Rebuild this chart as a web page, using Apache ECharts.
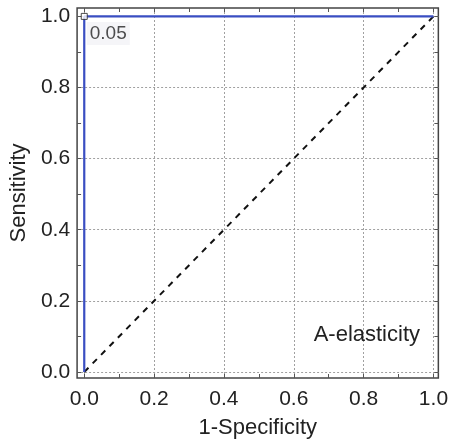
<!DOCTYPE html>
<html><head><meta charset="utf-8">
<script src="https://cdn.jsdelivr.net/npm/echarts@6/dist/echarts.min.js"></script>
<style>html,body{margin:0;padding:0;background:#fff}#c{width:451px;height:446px}</style>
</head><body><div id="c"></div>
<script>
// ROC curve data
const rocX = [0, 0, 1];
const rocY = [0, 1, 1];
const diagX = [0, 1];
const diagY = [0, 1];
const cutoffPoint = [0, 1];
const cutoffLabel = '0.05';
const majorTicks = [0, 0.2, 0.4, 0.6, 0.8, 1.0];
const minorTicks = [0, 0.1, 0.2, 0.3, 0.4, 0.5, 0.6, 0.7, 0.8, 0.9, 1.0];
const xTitle = '1-Specificity';
const yTitle = 'Sensitivity';
const panelLabel = 'A-elasticity';

const FONT = 'Liberation Sans, Arial, sans-serif';
const TXT = '#222';
const chart = echarts.init(document.getElementById('c'), null, {renderer: 'canvas'});

function mainAxis(pos, isX) {
  return {
    type: 'value', position: pos,
    min: isX ? -0.0205 : -0.017, max: isX ? 1.014 : 1.0236,
    name: isX ? xTitle : yTitle,
    nameLocation: 'middle',
    nameGap: isX ? 39 : 46,
    nameTextStyle: {fontFamily: FONT, fontSize: 22, color: TXT},
    axisLine: {show: false, onZero: false},
    axisTick: {show: true, inside: true, length: 4, customValues: minorTicks, lineStyle: {color: '#555', width: 1}},
    axisLabel: {show: true, customValues: majorTicks, formatter: v => v.toFixed(1), fontFamily: FONT, fontSize: 21, color: TXT, margin: isX ? 11 : 7},
    splitLine: {show: false}
  };
}
function mirrorAxis(pos, isX) {
  return {
    type: 'value', position: pos,
    min: isX ? -0.0205 : -0.017, max: isX ? 1.014 : 1.0236,
    axisLine: {show: false, onZero: false},
    axisTick: {show: true, inside: true, length: 4, customValues: minorTicks, lineStyle: {color: '#555', width: 1}},
    axisLabel: {show: false},
    splitLine: {show: false}
  };
}

const gridLineStyle = {color: '#a0a0a0', type: [2, 2], width: 1};

chart.setOption({
  animation: false,
  backgroundColor: '#fff',
  grid: {left: 73, top: 8, width: 369, height: 370, show: true, borderColor: '#444', borderWidth: 1.5, backgroundColor: 'transparent'},
  title: {text: panelLabel, right: 26, top: 319, textStyle: {fontFamily: FONT, fontSize: 22, fontWeight: 'normal', color: TXT}},
  xAxis: [mainAxis('bottom', true), mirrorAxis('top', true)],
  yAxis: [mainAxis('left', false), mirrorAxis('right', false)],
  series: [
    {
      type: 'line', xAxisIndex: 0, yAxisIndex: 0, z: 0,
      data: [],
      markLine: {
        silent: true, symbol: 'none', label: {show: false}, z: 0,
        lineStyle: gridLineStyle,
        data: majorTicks.map(v => ({xAxis: v})).concat(majorTicks.map(v => ({yAxis: v})))
      }
    },
    {
      type: 'line', xAxisIndex: 0, yAxisIndex: 0, z: 3,
      data: diagX.map((x, i) => [x, diagY[i]]),
      symbol: 'none',
      lineStyle: {color: '#111', width: 2, type: [6, 6]}
    },
    {
      type: 'line', xAxisIndex: 0, yAxisIndex: 0, z: 4,
      data: rocX.map((x, i) => [x, rocY[i]]),
      symbol: 'none',
      lineStyle: {color: '#3a4ec2', width: 2.2}
    },
    {
      type: 'scatter', xAxisIndex: 0, yAxisIndex: 0, z: 5,
      data: [cutoffPoint],
      symbol: 'rect', symbolSize: 6,
      itemStyle: {color: '#fff', borderColor: '#222', borderWidth: 1},
      label: {show: true, formatter: cutoffLabel, position: [6, 9], fontFamily: FONT, fontSize: 19, color: TXT, backgroundColor: '#f3f3f6', padding: [2, 3]}
    }
  ]
});
</script></body></html>
